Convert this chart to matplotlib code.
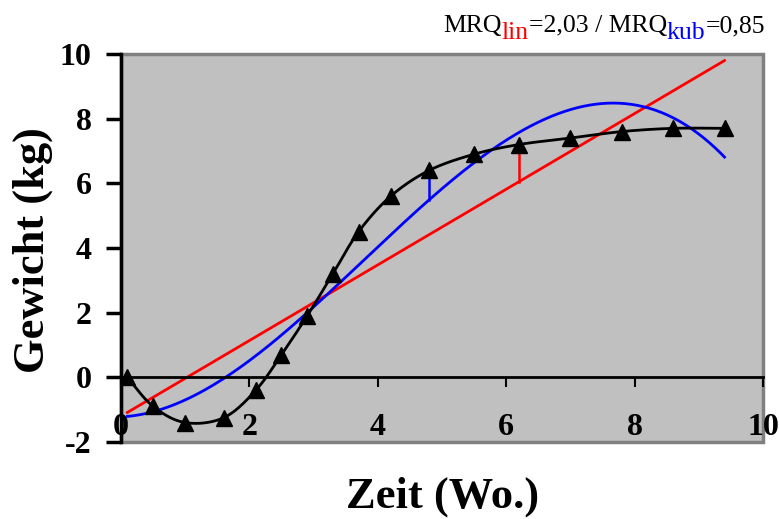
import numpy as np
import matplotlib.pyplot as plt
from matplotlib.patches import Rectangle

# weight over time (weeks)
weeks = [0.1, 0.5, 1.0, 1.6, 2.1, 2.5, 2.9, 3.3, 3.7, 4.2, 4.8, 5.5, 6.2, 7.0, 7.8, 8.6, 9.4]
weight = [0.0, -0.9, -1.4, -1.25, -0.4, 0.7, 1.9, 3.2, 4.5, 5.6, 6.4, 6.9, 7.2, 7.4, 7.6, 7.7, 7.7]

# residuals drawn for one point of each fit
resid_lin_idx = 12
resid_kub_idx = 10

plt.rcParams['font.family'] = ['Liberation Serif', 'DejaVu Serif']
plt.rcParams['axes.unicode_minus'] = False


def smooth_curve(x, y, n=30):
    # bezier smoothing through the points, control points at +-1/6 of neighbour span
    x = np.asarray(x, float)
    y = np.asarray(y, float)
    px = np.concatenate([[x[0]], x, [x[-1]]])
    py = np.concatenate([[y[0]], y, [y[-1]]])
    xs, ys = [], []
    t = np.linspace(0, 1, n)
    for i in range(len(x) - 1):
        p0 = np.array([x[i], y[i]])
        p3 = np.array([x[i + 1], y[i + 1]])
        p1 = p0 + (np.array([px[i + 2], py[i + 2]]) - np.array([px[i], py[i]])) / 6
        p2 = p3 - (np.array([px[i + 3], py[i + 3]]) - np.array([px[i + 1], py[i + 1]])) / 6
        b = ((1 - t) ** 3)[:, None] * p0 + (3 * (1 - t) ** 2 * t)[:, None] * p1 \
            + (3 * (1 - t) * t ** 2)[:, None] * p2 + (t ** 3)[:, None] * p3
        xs.extend(b[:, 0])
        ys.extend(b[:, 1])
    return np.array(xs), np.array(ys)


x = np.array(weeks)
y = np.array(weight)
lin = np.polyfit(x, y, 1)
kub = np.polyfit(x, y, 3)
xf = np.linspace(x[0], x[-1], 200)

fig = plt.figure(figsize=(7.79, 5.19), dpi=100)
ax = fig.add_axes([0.1553, 0.1484, 0.8242, 0.7476])
ax.set_facecolor('#c0c0c0')

sx, sy = smooth_curve(x, y)
ax.plot(sx, sy, color='black', lw=2, zorder=3)
ax.plot(x, y, linestyle='none', marker='^', ms=11, color='black', zorder=4)
ax.plot(xf, np.polyval(lin, xf), color='#ff0000', lw=2, zorder=2)
ax.plot(xf, np.polyval(kub, xf), color='#0000ff', lw=2, zorder=2)

i = resid_lin_idx
ax.plot([x[i], x[i]], [y[i], np.polyval(lin, x[i])], color='#ff0000', lw=1.8, zorder=2)
i = resid_kub_idx
ax.plot([x[i], x[i]], [y[i], np.polyval(kub, x[i])], color='#0000ff', lw=1.8, zorder=2)

ax.set_xlim(0, 10)
ax.set_ylim(-2, 10)
ax.set_xticks([0, 2, 4, 6, 8, 10])
ax.set_yticks([-2, 0, 2, 4, 6, 8, 10])

for s in ['top', 'right']:
    ax.spines[s].set_visible(False)
ax.spines['bottom'].set_position(('data', 0))
ax.spines['bottom'].set_linewidth(2)
ax.spines['left'].set_linewidth(2.5)
ax.add_patch(Rectangle((0, 0), 1, 1, transform=ax.transAxes, fill=False,
                       edgecolor='#808080', lw=2.5, zorder=0.5, clip_on=False))

ax.tick_params(axis='x', direction='out', length=7, width=1.5, pad=19, labelsize=23)
ax.tick_params(axis='y', direction='out', length=11, width=2.5, pad=10, labelsize=23)
for lab in ax.get_xticklabels() + ax.get_yticklabels():
    lab.set_fontweight('bold')

fig.text(0.5687, 0.042, 'Zeit (Wo.)', ha='center', va='center', fontsize=32, fontweight='bold')
fig.text(0.042, 0.518, 'Gewicht (kg)', ha='center', va='center', rotation=90,
         fontsize=32, fontweight='bold')

# title built from pieces so the subscripts can carry their own colour
fs = 18.5
t1 = fig.text(0.5687, 0.938, 'MRQ', fontsize=fs, va='baseline')
t2 = ax.annotate('lin', xy=(1, 0), xycoords=t1, xytext=(0, -5), textcoords='offset points',
                 va='bottom', fontsize=fs, color='#ff0000')
t3 = ax.annotate('=2,03 / MRQ', xy=(1, 0), xycoords=t2, xytext=(0, 5),
                 textcoords='offset points', va='bottom', fontsize=fs)
t4 = ax.annotate('kub', xy=(1, 0), xycoords=t3, xytext=(0, -5), textcoords='offset points',
                 va='bottom', fontsize=fs, color='#0000ff')
t5 = ax.annotate('=0,85', xy=(1, 0), xycoords=t4, xytext=(0, 5), textcoords='offset points',
                 va='bottom', fontsize=fs)

fig.savefig('out.png', dpi=100)
